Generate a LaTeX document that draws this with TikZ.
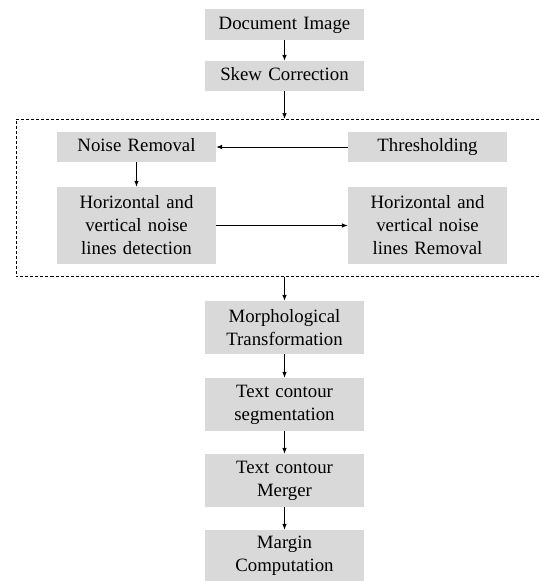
\documentclass[tikz,border=0pt]{standalone}
\usepackage{fontspec}
\setmainfont{Liberation Serif}
\usetikzlibrary{arrows.meta}

\begin{document}
\begin{tikzpicture}[x=1pt,y=-1pt,
    stepbox/.style={fill=black!15,inner sep=0pt,minimum width=159pt,text width=155pt,align=center,
      font=\fontsize{18.8}{23}\selectfont},
    oneline/.style={text height=13pt,text depth=4pt},
    flow/.style={-{Latex[length=6pt,width=4.5pt]},line width=0.7pt}]
  \useasboundingbox (0,0) rectangle (539,581);
  \node[stepbox,oneline,minimum height=31pt] (doc) at (284.5,24.5) {Document Image};
  \node[stepbox,oneline,minimum height=30pt] (skew) at (284.5,76) {Skew Correction};
  \node[stepbox,oneline,minimum height=30pt] (noise) at (136.5,147) {Noise Removal};
  \node[stepbox,oneline,minimum height=30pt] (thresh) at (427.5,147) {Thresholding};
  \node[stepbox,minimum height=77pt] (hdet) at (136.5,225.5) {Horizontal and\\vertical noise\\lines detection};
  \node[stepbox,minimum height=77pt] (hrem) at (427.5,225.5) {Horizontal and\\vertical noise\\lines Removal};
  \node[stepbox,minimum height=53pt] (morph) at (284.5,327.5) {Morphological\\Transformation};
  \node[stepbox,minimum height=53pt] (seg) at (284.5,404.5) {Text contour\\segmentation};
  \node[stepbox,minimum height=53pt] (merger) at (284.5,480.5) {Text contour\\Merger};
  \node[stepbox,minimum height=51pt] (margin) at (284.5,555.5) {Margin\\Computation};
  \draw[dashed,dash pattern=on 3pt off 2pt,line width=0.7pt] (539,119) -- (16,119) -- (16,276.5) -- (539,276.5);
  \coordinate (frtop) at (284.5,119);
  \coordinate (frbot) at (284.5,276.5);
  \draw[flow] (doc) -- (skew);
  \draw[flow] (skew) -- (frtop);
  \draw[flow] (thresh) -- (noise);
  \draw[flow] (noise) -- (hdet);
  \draw[flow] (hdet) -- (hrem);
  \draw[flow] (frbot) -- (morph);
  \draw[flow] (morph) -- (seg);
  \draw[flow] (seg) -- (merger);
  \draw[flow] (merger) -- (margin);
\end{tikzpicture}
\end{document}
